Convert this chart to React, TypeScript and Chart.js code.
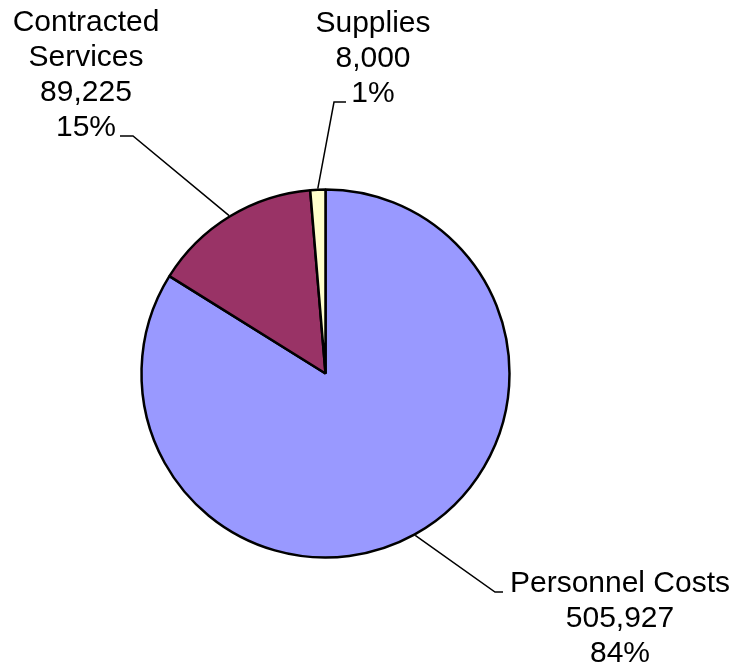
import React, { useEffect, useRef } from "react";
import { Chart, registerables } from "chart.js";

Chart.register(...registerables);

const categories = ["Personnel Costs", "Contracted Services", "Supplies"];
const values = [505927, 89225, 8000];
const colors = ["#9999FF", "#993366", "#FFFFCC"];

// Label text lines per category (split where the reference wraps the name)
const labelNameLines = [["Personnel Costs"], ["Contracted", "Services"], ["Supplies"]];

// Layout of the labels (text centre x, first baseline y, leader: elbow x, end x, on which line)
const labelLayout = [
  { x: 620, y: 592, elbowX: 495, endX: 503, lineIdx: 0 },
  { x: 86, y: 31, elbowX: 133, endX: 120, lineIdx: 3 },
  { x: 373, y: 32, elbowX: 334, endX: 346, lineIdx: 2 },
];

const FONT = '30px "Liberation Sans", Arial, sans-serif';
const LINE_H = 35;

const labelPlugin = {
  id: "pieLabels",
  afterDatasetsDraw(chart: any) {
    const ctx = chart.ctx;
    const meta = chart.getDatasetMeta(0);
    const data = chart.data.datasets[0].data as number[];
    const total = data.reduce((a, b) => a + b, 0);
    ctx.save();
    meta.data.forEach((arc: any, i: number) => {
      const { x, y, startAngle, endAngle, outerRadius } = arc.getProps(
        ["x", "y", "startAngle", "endAngle", "outerRadius"],
        true
      );
      const mid = (startAngle + endAngle) / 2;
      const ex = x + Math.cos(mid) * (outerRadius + 1);
      const ey = y + Math.sin(mid) * (outerRadius + 1);
      const lay = labelLayout[i];
      const lines = [
        ...labelNameLines[i],
        data[i].toLocaleString("en-US"),
        Math.round((data[i] / total) * 100) + "%",
      ];
      const ly = lay.y + lay.lineIdx * LINE_H;
      ctx.strokeStyle = "#000";
      ctx.lineWidth = 1.5;
      ctx.beginPath();
      ctx.moveTo(ex, ey);
      ctx.lineTo(lay.elbowX, ly);
      ctx.lineTo(lay.endX, ly);
      ctx.stroke();

      ctx.fillStyle = "#000";
      ctx.font = FONT;
      ctx.textAlign = "center";
      ctx.textBaseline = "alphabetic";
      lines.forEach((t, k) => {
        ctx.fillText(t, lay.x, lay.y + k * LINE_H);
      });
    });
    ctx.restore();
  },
};

export default function App() {
  const canvasRef = useRef<HTMLCanvasElement | null>(null);

  useEffect(() => {
    document.body.style.margin = "0";
    const canvas = canvasRef.current;
    if (!canvas) return;
    const chart = new Chart(canvas, {
      type: "pie",
      data: {
        labels: categories,
        datasets: [
          {
            data: values,
            backgroundColor: colors,
            borderColor: "#000000",
            borderWidth: 2.5,
            radius: 184,
          } as any,
        ],
      },
      options: {
        responsive: false,
        animation: false,
        devicePixelRatio: 1,
        layout: { padding: { left: 0, right: 83, top: 79, bottom: 0 } },
        plugins: {
          legend: { display: false },
          tooltip: { enabled: false },
        },
      },
      plugins: [labelPlugin],
    });
    return () => chart.destroy();
  }, []);

  return (
    <div style={{ width: 734, height: 668, background: "#fff" }}>
      <canvas ref={canvasRef} width={734} height={668} />
    </div>
  );
}
